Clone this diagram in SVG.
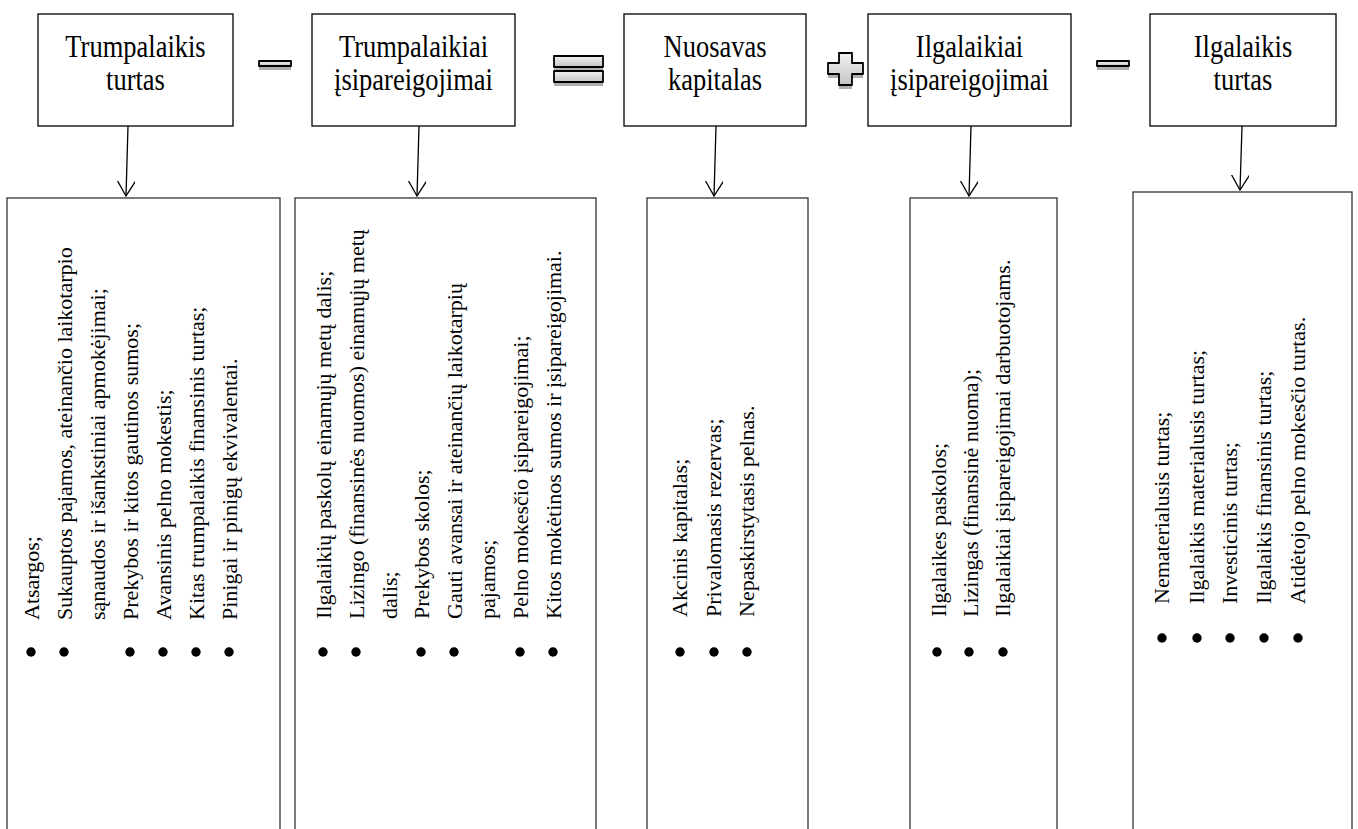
<svg xmlns="http://www.w3.org/2000/svg" width="1358" height="829" viewBox="0 0 1358 829">
<style>
  .box{fill:#fff;stroke:#000;stroke-width:1.3}
  .lbox{fill:#fff;stroke:#333;stroke-width:1.3}
  .title{font-family:"Liberation Serif","Times New Roman",serif;font-size:26.5px;fill:#000;text-anchor:middle}
  .item{font-family:"Liberation Serif","Times New Roman",serif;font-size:22px;fill:#000}
  .bul{fill:#000}
  .conn{stroke:#000;stroke-width:1.3;fill:none}
  .op{fill:url(#opg);stroke:#000;stroke-width:1.8;stroke-linejoin:round}
  .sh{fill:#9a9a9a;opacity:0.8}
</style>
<defs>
  <linearGradient id="opg" x1="0" y1="0" x2="0" y2="1">
    <stop offset="0" stop-color="#f2f2f2"/>
    <stop offset="1" stop-color="#c4c4c4"/>
  </linearGradient>
  <marker id="arr" markerWidth="20" markerHeight="20" refX="15" refY="9" orient="auto" markerUnits="userSpaceOnUse">
    <path d="M0,0 L15,9 L0,18" fill="none" stroke="#000" stroke-width="1.3"/>
  </marker>
</defs>
<rect width="1358" height="829" fill="#fff"/>

<!-- operators -->
<g id="op-minus1">
  <rect class="sh" x="259" y="65" width="32" height="5"/>
  <rect class="op" x="259" y="61" width="32" height="5"/>
</g>
<g id="op-equals">
  <rect class="sh" x="554" y="60" width="49" height="11"/>
  <rect class="sh" x="554" y="75" width="49" height="11"/>
  <rect class="op" x="554" y="56" width="49" height="11"/>
  <rect class="op" x="554" y="71" width="49" height="11"/>
</g>
<g id="op-plus">
  <polygon class="sh" points="839,57 852,57 852,67 863,67 863,78 852,78 852,89 839,89 839,78 828,78 828,67 839,67"/>
  <polygon class="op" points="839,53 852,53 852,63 863,63 863,74 852,74 852,85 839,85 839,74 828,74 828,63 839,63"/>
</g>
<g id="op-minus2">
  <rect class="sh" x="1097" y="65" width="32" height="5"/>
  <rect class="op" x="1097" y="61" width="32" height="5"/>
</g>

<!-- top nodes -->
<g id="n-trumpalaikis-turtas">
  <rect class="box" x="38" y="14" width="195" height="112"/>
  <text class="title" transform="translate(135.5,57) scale(1,1.18)">Trumpalaikis</text>
  <text class="title" transform="translate(135.5,90) scale(1,1.18)">turtas</text>
</g>
<g id="n-trumpalaikiai-isipareigojimai">
  <rect class="box" x="312" y="14" width="203" height="112"/>
  <text class="title" transform="translate(413.5,57) scale(1,1.18)">Trumpalaikiai</text>
  <text class="title" transform="translate(413.5,90) scale(1,1.18)">įsipareigojimai</text>
</g>
<g id="n-nuosavas-kapitalas">
  <rect class="box" x="624" y="14" width="182" height="112"/>
  <text class="title" transform="translate(715,57) scale(1,1.18)">Nuosavas</text>
  <text class="title" transform="translate(715,90) scale(1,1.18)">kapitalas</text>
</g>
<g id="n-ilgalaikiai-isipareigojimai">
  <rect class="box" x="868" y="14" width="203" height="112"/>
  <text class="title" transform="translate(969.5,57) scale(1,1.18)">Ilgalaikiai</text>
  <text class="title" transform="translate(969.5,90) scale(1,1.18)">įsipareigojimai</text>
</g>
<g id="n-ilgalaikis-turtas">
  <rect class="box" x="1150" y="14" width="186" height="112"/>
  <text class="title" transform="translate(1243,57) scale(1,1.18)">Ilgalaikis</text>
  <text class="title" transform="translate(1243,90) scale(1,1.18)">turtas</text>
</g>

<!-- connectors -->
<g id="connectors">
  <line class="conn" x1="128" y1="126" x2="126" y2="196" marker-end="url(#arr)"/>
  <line class="conn" x1="419" y1="126" x2="417" y2="196" marker-end="url(#arr)"/>
  <line class="conn" x1="716" y1="126" x2="714" y2="196" marker-end="url(#arr)"/>
  <line class="conn" x1="971" y1="126" x2="969" y2="196" marker-end="url(#arr)"/>
  <line class="conn" x1="1242" y1="126" x2="1240" y2="190" marker-end="url(#arr)"/>
</g>

<!-- list node 1 -->
<g id="l-trumpalaikis-turtas">
  <rect class="lbox" x="7" y="198" width="273" height="640"/>
  <circle class="bul" cx="31" cy="652" r="4.7"/>
  <circle class="bul" cx="64" cy="652" r="4.7"/>
  <circle class="bul" cx="130" cy="652" r="4.7"/>
  <circle class="bul" cx="163" cy="652" r="4.7"/>
  <circle class="bul" cx="196" cy="652" r="4.7"/>
  <circle class="bul" cx="229" cy="652" r="4.7"/>
  <text class="item" transform="translate(39,620) rotate(-90)">Atsargos;</text>
  <text class="item" transform="translate(72,620) rotate(-90)">Sukauptos pajamos,  ateinančio laikotarpio</text>
  <text class="item" transform="translate(105,620) rotate(-90)">sąnaudos ir išankstiniai apmokėjimai;</text>
  <text class="item" transform="translate(138,620) rotate(-90)">Prekybos ir kitos gautinos sumos;</text>
  <text class="item" transform="translate(171,620) rotate(-90)">Avansinis pelno mokestis;</text>
  <text class="item" transform="translate(204,620) rotate(-90)">Kitas trumpalaikis finansinis turtas;</text>
  <text class="item" transform="translate(237,620) rotate(-90)">Pinigai ir pinigų ekvivalentai.</text>
</g>

<!-- list node 2 -->
<g id="l-trumpalaikiai-isipareigojimai">
  <rect class="lbox" x="295" y="198" width="301" height="640"/>
  <circle class="bul" cx="323" cy="652" r="4.7"/>
  <circle class="bul" cx="356" cy="652" r="4.7"/>
  <circle class="bul" cx="421" cy="652" r="4.7"/>
  <circle class="bul" cx="454" cy="652" r="4.7"/>
  <circle class="bul" cx="520" cy="652" r="4.7"/>
  <circle class="bul" cx="553" cy="652" r="4.7"/>
  <text class="item" transform="translate(331,619) rotate(-90)">Ilgalaikių paskolų einamųjų metų dalis;</text>
  <text class="item" transform="translate(364,619) rotate(-90)">Lizingo (finansinės nuomos) einamųjų metų</text>
  <text class="item" transform="translate(397,619) rotate(-90)">dalis;</text>
  <text class="item" transform="translate(429,619) rotate(-90)">Prekybos skolos;</text>
  <text class="item" transform="translate(462,619) rotate(-90)">Gauti avansai ir ateinančių laikotarpių</text>
  <text class="item" transform="translate(495,619) rotate(-90)">pajamos;</text>
  <text class="item" transform="translate(528,619) rotate(-90)">Pelno mokesčio įsipareigojimai;</text>
  <text class="item" transform="translate(561,619) rotate(-90)">Kitos mokėtinos sumos ir įsipareigojimai.</text>
</g>

<!-- list node 3 -->
<g id="l-nuosavas-kapitalas">
  <rect class="lbox" x="647" y="198" width="161" height="640"/>
  <circle class="bul" cx="680" cy="652" r="4.7"/>
  <circle class="bul" cx="714" cy="652" r="4.7"/>
  <circle class="bul" cx="747" cy="652" r="4.7"/>
  <text class="item" transform="translate(687,617) rotate(-90)">Akcinis kapitalas;</text>
  <text class="item" transform="translate(721,617) rotate(-90)">Privalomasis rezervas;</text>
  <text class="item" transform="translate(754,617) rotate(-90)">Nepaskirstytasis pelnas.</text>
</g>

<!-- list node 4 -->
<g id="l-ilgalaikiai-isipareigojimai">
  <rect class="lbox" x="910" y="198" width="147" height="640"/>
  <circle class="bul" cx="937" cy="652" r="4.7"/>
  <circle class="bul" cx="969" cy="652" r="4.7"/>
  <circle class="bul" cx="1003" cy="652" r="4.7"/>
  <text class="item" transform="translate(946,617) rotate(-90)">Ilgalaikes paskolos;</text>
  <text class="item" transform="translate(978,617) rotate(-90)">Lizingas (finansinė nuoma);</text>
  <text class="item" transform="translate(1010,617) rotate(-90)">Ilgalaikiai įsipareigojimai darbuotojams.</text>
</g>

<!-- list node 5 -->
<g id="l-ilgalaikis-turtas">
  <rect class="lbox" x="1133" y="192" width="219" height="646"/>
  <circle class="bul" cx="1162" cy="638" r="4.7"/>
  <circle class="bul" cx="1197" cy="638" r="4.7"/>
  <circle class="bul" cx="1230" cy="638" r="4.7"/>
  <circle class="bul" cx="1264" cy="638" r="4.7"/>
  <circle class="bul" cx="1298" cy="638" r="4.7"/>
  <text class="item" transform="translate(1169,604) rotate(-90)">Nematerialusis turtas;</text>
  <text class="item" transform="translate(1204,604) rotate(-90)">Ilgalaikis materialusis turtas;</text>
  <text class="item" transform="translate(1237,604) rotate(-90)">Investicinis turtas;</text>
  <text class="item" transform="translate(1271,604) rotate(-90)">Ilgalaikis finansinis turtas;</text>
  <text class="item" transform="translate(1305,604) rotate(-90)">Atidėtojo pelno mokesčio turtas.</text>
</g>
</svg>
